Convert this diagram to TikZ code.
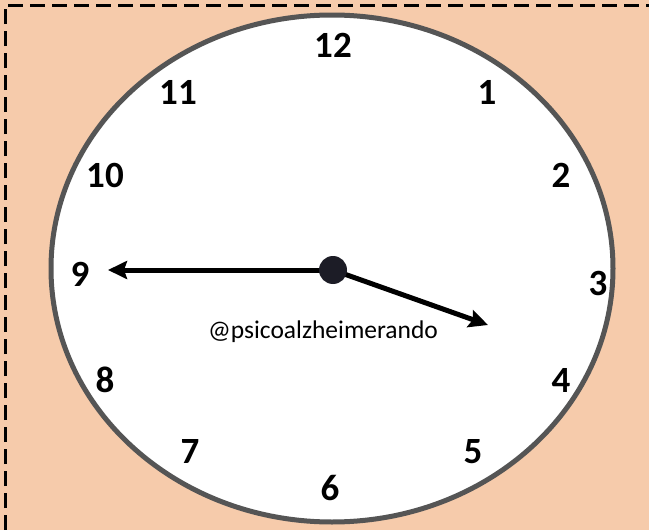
\documentclass[tikz,border=0pt]{standalone}
\usepackage{fontspec}
\setmainfont{Carlito}
\usetikzlibrary{positioning, arrows.meta}
\definecolor{peach}{RGB}{246,203,171}
\definecolor{rimgray}{RGB}{85,85,85}
\definecolor{hubblue}{RGB}{28,28,38}

\begin{document}
\begin{tikzpicture}[
        x=1pt, y=-1pt,
        numlbl/.style={inner sep=0pt, font=\fontsize{37}{37}\selectfont\bfseries},
        tag/.style={inner sep=0pt, anchor=base, font=\fontsize{25.5}{25.5}\selectfont},
        rim/.style={draw=rimgray, line width=5pt, fill=white},
        hand/.style={line width=5pt, -{Stealth[length=19pt, width=18pt, inset=3pt]}},
        hubdot/.style={circle, fill=hubblue, minimum size=28pt, inner sep=0pt},
        frame/.style={line width=3pt, dash pattern=on 15pt off 7pt},
    ]
    \useasboundingbox (0,0) rectangle (649,530);
    % Background and frame
    \fill[peach] (0,0) rectangle (649,530);
    \draw[frame] (5,530) -- (5,5) -- (649,5);

    % Clock face
    \draw[rim] (332,268.5) ellipse [x radius=281, y radius=253.5];

    % Numbers
    \foreach \n/\x/\y in {12/333/45, 1/487/92, 2/561/175, 3/598/283, 4/561/380, 5/473/452,
                          6/330/488, 7/190/452, 8/105/380, 9/80/274, 10/105/175, 11/178/92} {
        \node[numlbl] (n\n) at (\x,\y) {\n};
    }

    % Hands
    \coordinate (hub) at (333,270);
    \coordinate (mintip) at (108,270);
    \coordinate (hourtip) at (488,325);
    \draw[hand] (hub) -- (mintip);
    \draw[hand] (hub) -- (hourtip);
    \node[hubdot] (dot) at (hub) {};

    \node[tag] (handle) at (323,338) {@psicoalzheimerando};
\end{tikzpicture}
\end{document}
